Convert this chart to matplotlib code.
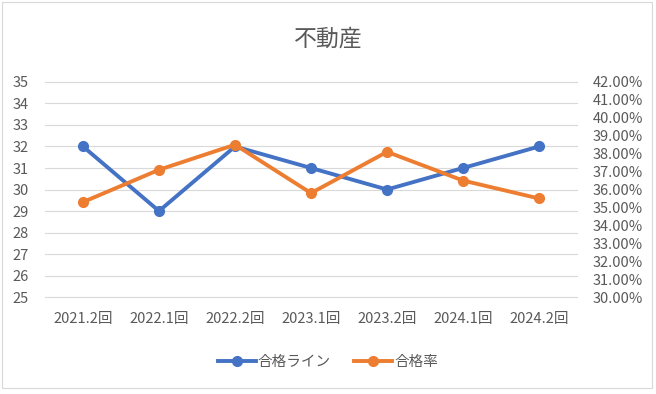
import matplotlib.pyplot as plt
from matplotlib.lines import Line2D
from matplotlib.patches import Rectangle
from matplotlib.ticker import FuncFormatter

plt.rcParams['font.family'] = ['Noto Sans CJK JP', 'DejaVu Sans']

# データ
categories = ['2021.2回', '2022.1回', '2022.2回', '2023.1回', '2023.2回', '2024.1回', '2024.2回']
pass_line = [32, 29, 32, 31, 30, 31, 32]
pass_rate = [35.3, 37.1, 38.5, 35.8, 38.1, 36.5, 35.5]

blue = '#4472C4'
orange = '#ED7D31'
grey = '#595959'
lw, ms = 2.8, 7

fig = plt.figure(figsize=(6.56, 3.94), dpi=100)
ax = fig.add_axes([0.0686, 0.246, 0.811, 0.546])
ax2 = ax.twinx()

x = range(len(categories))
ax.plot(x, pass_line, color=blue, lw=lw, marker='o', ms=ms, solid_capstyle='round')
ax2.plot(x, pass_rate, color=orange, lw=lw, marker='o', ms=ms, solid_capstyle='round')

ax.set_xlim(-0.5, len(categories) - 0.5)
ax.set_ylim(25, 35)
ax.set_yticks(range(25, 36))
ax2.set_ylim(30, 42)
ax2.set_yticks(range(30, 43))
ax2.yaxis.set_major_formatter(FuncFormatter(lambda v, p: '%.2f%%' % v))

ax.set_xticks(list(x))
ax.set_xticklabels(categories)
ax.grid(axis='y', color='#D9D9D9', lw=0.8)
ax.set_axisbelow(True)
for g in ax.yaxis.get_gridlines():
    g.set_clip_on(False)

for a in (ax, ax2):
    for s in a.spines.values():
        s.set_visible(False)
    a.tick_params(length=0, labelsize=10.5, colors=grey)
ax.tick_params(axis='x', pad=11)
ax.tick_params(axis='y', pad=11.5)
ax2.tick_params(axis='y', pad=11)

fig.text(0.5, 0.901, '不動産', ha='center', va='center', fontsize=16.5, color=grey)

handles = [Line2D([], [], color=blue, lw=lw, marker='o', ms=ms),
           Line2D([], [], color=orange, lw=lw, marker='o', ms=ms)]
fig.legend(handles, ['合格ライン', '合格率'], loc='center', bbox_to_anchor=(0.5, 0.081),
           ncol=2, frameon=False, fontsize=10.5, labelcolor=grey,
           handlelength=2.6, handletextpad=0.15, columnspacing=1.6)

fig.patches.append(Rectangle((2 / 656, 6 / 394), 650 / 656, 386 / 394, transform=fig.transFigure,
                             fill=False, edgecolor='#D9D9D9', lw=0.8))

fig.savefig('out.png', dpi=100)
